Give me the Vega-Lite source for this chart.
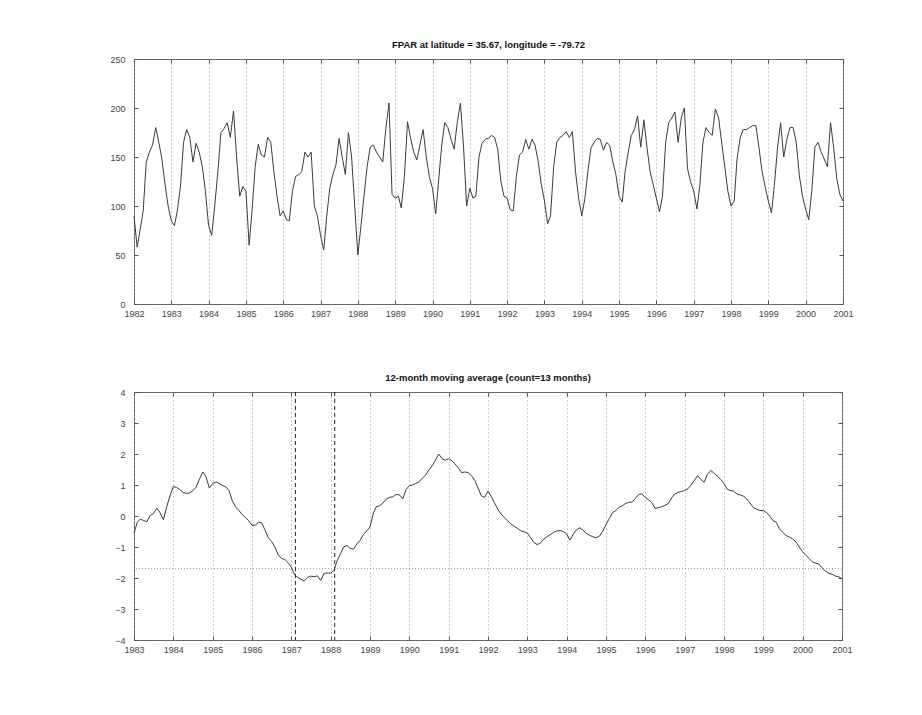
{
"$schema": "https://vega.github.io/schema/vega-lite/v6.json",
"background": "white",
"padding": {"left": 109, "top": 39, "right": 10, "bottom": 10},
"config": {
  "font": "Liberation Sans",
  "view": {"stroke": "#666", "strokeWidth": 1},
  "axis": {"labelFont": "Liberation Sans", "labelFontSize": 9, "labelColor": "#444", "tickColor": "#555", "tickSize": -4, "labelPadding": 7, "domain": false, "grid": false, "title": null},
  "axisY": {"labelPadding": 13},
  "title": {"font": "Liberation Sans", "fontSize": 9.5, "fontWeight": "bold", "color": "#111", "offset": 6, "anchor": "middle"}
},
"datasets": {
"fpar": [
{"d":"1982-01","v":90},{"d":"1982-02","v":58},{"d":"1982-03","v":75},{"d":"1982-04","v":95},{"d":"1982-05","v":145},{"d":"1982-06","v":155},{"d":"1982-07","v":162},{"d":"1982-08","v":180},{"d":"1982-09","v":165},{"d":"1982-10","v":148},{"d":"1982-11","v":122},{"d":"1982-12","v":100},
{"d":"1983-01","v":85},{"d":"1983-02","v":80},{"d":"1983-03","v":95},{"d":"1983-04","v":120},{"d":"1983-05","v":165},{"d":"1983-06","v":178},{"d":"1983-07","v":170},{"d":"1983-08","v":145},{"d":"1983-09","v":164},{"d":"1983-10","v":155},{"d":"1983-11","v":140},{"d":"1983-12","v":115},
{"d":"1984-01","v":80},{"d":"1984-02","v":70},{"d":"1984-03","v":100},{"d":"1984-04","v":135},{"d":"1984-05","v":175},{"d":"1984-06","v":179},{"d":"1984-07","v":185},{"d":"1984-08","v":170},{"d":"1984-09","v":197},{"d":"1984-10","v":150},{"d":"1984-11","v":110},{"d":"1984-12","v":120},
{"d":"1985-01","v":115},{"d":"1985-02","v":60},{"d":"1985-03","v":95},{"d":"1985-04","v":140},{"d":"1985-05","v":163},{"d":"1985-06","v":152},{"d":"1985-07","v":150},{"d":"1985-08","v":170},{"d":"1985-09","v":165},{"d":"1985-10","v":135},{"d":"1985-11","v":110},{"d":"1985-12","v":90},
{"d":"1986-01","v":95},{"d":"1986-02","v":86},{"d":"1986-03","v":85},{"d":"1986-04","v":115},{"d":"1986-05","v":130},{"d":"1986-06","v":132},{"d":"1986-07","v":135},{"d":"1986-08","v":155},{"d":"1986-09","v":150},{"d":"1986-10","v":155},{"d":"1986-11","v":100},{"d":"1986-12","v":90},
{"d":"1987-01","v":70},{"d":"1987-02","v":55},{"d":"1987-03","v":88},{"d":"1987-04","v":118},{"d":"1987-05","v":132},{"d":"1987-06","v":142},{"d":"1987-07","v":169},{"d":"1987-08","v":150},{"d":"1987-09","v":132},{"d":"1987-10","v":175},{"d":"1987-11","v":150},{"d":"1987-12","v":101},
{"d":"1988-01","v":50},{"d":"1988-02","v":80},{"d":"1988-03","v":110},{"d":"1988-04","v":140},{"d":"1988-05","v":160},{"d":"1988-06","v":162},{"d":"1988-07","v":155},{"d":"1988-08","v":150},{"d":"1988-09","v":145},{"d":"1988-10","v":179},{"d":"1988-11","v":205},{"d":"1988-12","v":112},
{"d":"1989-01","v":108},{"d":"1989-02","v":110},{"d":"1989-03","v":98},{"d":"1989-04","v":130},{"d":"1989-05","v":186},{"d":"1989-06","v":169},{"d":"1989-07","v":155},{"d":"1989-08","v":147},{"d":"1989-09","v":163},{"d":"1989-10","v":178},{"d":"1989-11","v":150},{"d":"1989-12","v":130},
{"d":"1990-01","v":118},{"d":"1990-02","v":92},{"d":"1990-03","v":125},{"d":"1990-04","v":162},{"d":"1990-05","v":185},{"d":"1990-06","v":180},{"d":"1990-07","v":168},{"d":"1990-08","v":158},{"d":"1990-09","v":186},{"d":"1990-10","v":205},{"d":"1990-11","v":160},{"d":"1990-12","v":100},
{"d":"1991-01","v":118},{"d":"1991-02","v":108},{"d":"1991-03","v":110},{"d":"1991-04","v":150},{"d":"1991-05","v":164},{"d":"1991-06","v":168},{"d":"1991-07","v":169},{"d":"1991-08","v":172},{"d":"1991-09","v":170},{"d":"1991-10","v":158},{"d":"1991-11","v":125},{"d":"1991-12","v":110},
{"d":"1992-01","v":108},{"d":"1992-02","v":96},{"d":"1992-03","v":95},{"d":"1992-04","v":130},{"d":"1992-05","v":152},{"d":"1992-06","v":155},{"d":"1992-07","v":168},{"d":"1992-08","v":158},{"d":"1992-09","v":168},{"d":"1992-10","v":162},{"d":"1992-11","v":145},{"d":"1992-12","v":122},
{"d":"1993-01","v":105},{"d":"1993-02","v":82},{"d":"1993-03","v":90},{"d":"1993-04","v":140},{"d":"1993-05","v":165},{"d":"1993-06","v":170},{"d":"1993-07","v":172},{"d":"1993-08","v":176},{"d":"1993-09","v":170},{"d":"1993-10","v":176},{"d":"1993-11","v":135},{"d":"1993-12","v":108},
{"d":"1994-01","v":90},{"d":"1994-02","v":108},{"d":"1994-03","v":135},{"d":"1994-04","v":159},{"d":"1994-05","v":165},{"d":"1994-06","v":169},{"d":"1994-07","v":168},{"d":"1994-08","v":157},{"d":"1994-09","v":165},{"d":"1994-10","v":162},{"d":"1994-11","v":145},{"d":"1994-12","v":132},
{"d":"1995-01","v":110},{"d":"1995-02","v":104},{"d":"1995-03","v":135},{"d":"1995-04","v":155},{"d":"1995-05","v":172},{"d":"1995-06","v":178},{"d":"1995-07","v":192},{"d":"1995-08","v":160},{"d":"1995-09","v":188},{"d":"1995-10","v":160},{"d":"1995-11","v":135},{"d":"1995-12","v":122},
{"d":"1996-01","v":108},{"d":"1996-02","v":94},{"d":"1996-03","v":110},{"d":"1996-04","v":165},{"d":"1996-05","v":185},{"d":"1996-06","v":190},{"d":"1996-07","v":196},{"d":"1996-08","v":165},{"d":"1996-09","v":190},{"d":"1996-10","v":200},{"d":"1996-11","v":138},{"d":"1996-12","v":125},
{"d":"1997-01","v":115},{"d":"1997-02","v":97},{"d":"1997-03","v":120},{"d":"1997-04","v":165},{"d":"1997-05","v":180},{"d":"1997-06","v":175},{"d":"1997-07","v":172},{"d":"1997-08","v":199},{"d":"1997-09","v":190},{"d":"1997-10","v":165},{"d":"1997-11","v":140},{"d":"1997-12","v":115},
{"d":"1998-01","v":100},{"d":"1998-02","v":105},{"d":"1998-03","v":148},{"d":"1998-04","v":170},{"d":"1998-05","v":178},{"d":"1998-06","v":178},{"d":"1998-07","v":180},{"d":"1998-08","v":182},{"d":"1998-09","v":182},{"d":"1998-10","v":160},{"d":"1998-11","v":135},{"d":"1998-12","v":120},
{"d":"1999-01","v":105},{"d":"1999-02","v":93},{"d":"1999-03","v":121},{"d":"1999-04","v":159},{"d":"1999-05","v":185},{"d":"1999-06","v":150},{"d":"1999-07","v":168},{"d":"1999-08","v":180},{"d":"1999-09","v":180},{"d":"1999-10","v":165},{"d":"1999-11","v":131},{"d":"1999-12","v":110},
{"d":"2000-01","v":97},{"d":"2000-02","v":86},{"d":"2000-03","v":115},{"d":"2000-04","v":160},{"d":"2000-05","v":165},{"d":"2000-06","v":155},{"d":"2000-07","v":148},{"d":"2000-08","v":140},{"d":"2000-09","v":185},{"d":"2000-10","v":160},{"d":"2000-11","v":128},{"d":"2000-12","v":112},
{"d":"2001-01","v":105}
],
"ma": [
{"d":"1983-01","v":-0.55},{"d":"1983-02","v":-0.2},{"d":"1983-03","v":-0.1},{"d":"1983-04","v":-0.15},{"d":"1983-05","v":-0.18},{"d":"1983-06","v":0.02},{"d":"1983-07","v":0.08},{"d":"1983-08","v":0.25},{"d":"1983-09","v":0.1},{"d":"1983-10","v":-0.12},{"d":"1983-11","v":0.3},{"d":"1983-12","v":0.65},
{"d":"1984-01","v":0.95},{"d":"1984-02","v":0.92},{"d":"1984-03","v":0.85},{"d":"1984-04","v":0.76},{"d":"1984-05","v":0.73},{"d":"1984-06","v":0.74},{"d":"1984-07","v":0.82},{"d":"1984-08","v":0.93},{"d":"1984-09","v":1.2},{"d":"1984-10","v":1.42},{"d":"1984-11","v":1.25},{"d":"1984-12","v":0.9},
{"d":"1985-01","v":1.05},{"d":"1985-02","v":1.1},{"d":"1985-03","v":1.05},{"d":"1985-04","v":0.98},{"d":"1985-05","v":0.95},{"d":"1985-06","v":0.82},{"d":"1985-07","v":0.5},{"d":"1985-08","v":0.3},{"d":"1985-09","v":0.18},{"d":"1985-10","v":0.05},{"d":"1985-11","v":-0.05},{"d":"1985-12","v":-0.15},
{"d":"1986-01","v":-0.3},{"d":"1986-02","v":-0.3},{"d":"1986-03","v":-0.2},{"d":"1986-04","v":-0.22},{"d":"1986-05","v":-0.45},{"d":"1986-06","v":-0.7},{"d":"1986-07","v":-0.82},{"d":"1986-08","v":-1.0},{"d":"1986-09","v":-1.25},{"d":"1986-10","v":-1.37},{"d":"1986-11","v":-1.4},{"d":"1986-12","v":-1.5},
{"d":"1987-01","v":-1.65},{"d":"1987-02","v":-1.9},{"d":"1987-03","v":-1.98},{"d":"1987-04","v":-2.04},{"d":"1987-05","v":-2.1},{"d":"1987-06","v":-1.98},{"d":"1987-07","v":-1.94},{"d":"1987-08","v":-1.96},{"d":"1987-09","v":-1.93},{"d":"1987-10","v":-2.08},{"d":"1987-11","v":-1.85},{"d":"1987-12","v":-1.84},
{"d":"1988-01","v":-1.84},{"d":"1988-02","v":-1.75},{"d":"1988-03","v":-1.45},{"d":"1988-04","v":-1.22},{"d":"1988-05","v":-1.0},{"d":"1988-06","v":-0.95},{"d":"1988-07","v":-1.05},{"d":"1988-08","v":-1.07},{"d":"1988-09","v":-0.9},{"d":"1988-10","v":-0.78},{"d":"1988-11","v":-0.6},{"d":"1988-12","v":-0.48},
{"d":"1989-01","v":-0.35},{"d":"1989-02","v":0.1},{"d":"1989-03","v":0.3},{"d":"1989-04","v":0.33},{"d":"1989-05","v":0.42},{"d":"1989-06","v":0.55},{"d":"1989-07","v":0.6},{"d":"1989-08","v":0.62},{"d":"1989-09","v":0.7},{"d":"1989-10","v":0.68},{"d":"1989-11","v":0.55},{"d":"1989-12","v":0.85},
{"d":"1990-01","v":0.98},{"d":"1990-02","v":1.0},{"d":"1990-03","v":1.05},{"d":"1990-04","v":1.1},{"d":"1990-05","v":1.22},{"d":"1990-06","v":1.32},{"d":"1990-07","v":1.48},{"d":"1990-08","v":1.62},{"d":"1990-09","v":1.8},{"d":"1990-10","v":2.0},{"d":"1990-11","v":1.85},{"d":"1990-12","v":1.8},
{"d":"1991-01","v":1.85},{"d":"1991-02","v":1.78},{"d":"1991-03","v":1.68},{"d":"1991-04","v":1.55},{"d":"1991-05","v":1.4},{"d":"1991-06","v":1.42},{"d":"1991-07","v":1.4},{"d":"1991-08","v":1.3},{"d":"1991-09","v":1.15},{"d":"1991-10","v":0.9},{"d":"1991-11","v":0.65},{"d":"1991-12","v":0.6},
{"d":"1992-01","v":0.8},{"d":"1992-02","v":0.63},{"d":"1992-03","v":0.43},{"d":"1992-04","v":0.22},{"d":"1992-05","v":0.07},{"d":"1992-06","v":-0.05},{"d":"1992-07","v":-0.15},{"d":"1992-08","v":-0.26},{"d":"1992-09","v":-0.33},{"d":"1992-10","v":-0.4},{"d":"1992-11","v":-0.48},{"d":"1992-12","v":-0.51},
{"d":"1993-01","v":-0.55},{"d":"1993-02","v":-0.7},{"d":"1993-03","v":-0.85},{"d":"1993-04","v":-0.92},{"d":"1993-05","v":-0.88},{"d":"1993-06","v":-0.75},{"d":"1993-07","v":-0.67},{"d":"1993-08","v":-0.6},{"d":"1993-09","v":-0.53},{"d":"1993-10","v":-0.48},{"d":"1993-11","v":-0.47},{"d":"1993-12","v":-0.5},
{"d":"1994-01","v":-0.58},{"d":"1994-02","v":-0.78},{"d":"1994-03","v":-0.6},{"d":"1994-04","v":-0.45},{"d":"1994-05","v":-0.38},{"d":"1994-06","v":-0.45},{"d":"1994-07","v":-0.56},{"d":"1994-08","v":-0.62},{"d":"1994-09","v":-0.67},{"d":"1994-10","v":-0.7},{"d":"1994-11","v":-0.65},{"d":"1994-12","v":-0.5},
{"d":"1995-01","v":-0.28},{"d":"1995-02","v":-0.08},{"d":"1995-03","v":0.1},{"d":"1995-04","v":0.17},{"d":"1995-05","v":0.28},{"d":"1995-06","v":0.33},{"d":"1995-07","v":0.4},{"d":"1995-08","v":0.44},{"d":"1995-09","v":0.45},{"d":"1995-10","v":0.57},{"d":"1995-11","v":0.7},{"d":"1995-12","v":0.71},
{"d":"1996-01","v":0.6},{"d":"1996-02","v":0.52},{"d":"1996-03","v":0.44},{"d":"1996-04","v":0.24},{"d":"1996-05","v":0.27},{"d":"1996-06","v":0.3},{"d":"1996-07","v":0.34},{"d":"1996-08","v":0.4},{"d":"1996-09","v":0.58},{"d":"1996-10","v":0.71},{"d":"1996-11","v":0.76},{"d":"1996-12","v":0.79},
{"d":"1997-01","v":0.82},{"d":"1997-02","v":0.88},{"d":"1997-03","v":1.0},{"d":"1997-04","v":1.15},{"d":"1997-05","v":1.3},{"d":"1997-06","v":1.18},{"d":"1997-07","v":1.09},{"d":"1997-08","v":1.35},{"d":"1997-09","v":1.47},{"d":"1997-10","v":1.38},{"d":"1997-11","v":1.28},{"d":"1997-12","v":1.18},
{"d":"1998-01","v":1.05},{"d":"1998-02","v":0.86},{"d":"1998-03","v":0.82},{"d":"1998-04","v":0.8},{"d":"1998-05","v":0.71},{"d":"1998-06","v":0.68},{"d":"1998-07","v":0.64},{"d":"1998-08","v":0.55},{"d":"1998-09","v":0.42},{"d":"1998-10","v":0.27},{"d":"1998-11","v":0.22},{"d":"1998-12","v":0.18},
{"d":"1999-01","v":0.17},{"d":"1999-02","v":0.11},{"d":"1999-03","v":0.0},{"d":"1999-04","v":-0.15},{"d":"1999-05","v":-0.2},{"d":"1999-06","v":-0.42},{"d":"1999-07","v":-0.53},{"d":"1999-08","v":-0.63},{"d":"1999-09","v":-0.68},{"d":"1999-10","v":-0.74},{"d":"1999-11","v":-0.84},{"d":"1999-12","v":-1.0},
{"d":"2000-01","v":-1.15},{"d":"2000-02","v":-1.27},{"d":"2000-03","v":-1.37},{"d":"2000-04","v":-1.48},{"d":"2000-05","v":-1.52},{"d":"2000-06","v":-1.55},{"d":"2000-07","v":-1.68},{"d":"2000-08","v":-1.78},{"d":"2000-09","v":-1.85},{"d":"2000-10","v":-1.88},{"d":"2000-11","v":-1.94},{"d":"2000-12","v":-1.96},
{"d":"2001-01","v":-2.02}
],
"events": [{"d":"1987-02-08"},{"d":"1988-02-08"}],
"level": [{"v":-1.7}]
},
"spacing": 53,
"vconcat": [
{
  "width": 709, "height": 245,
  "title": "FPAR at latitude = 35.67, longitude = -79.72",
  "data": {"name": "fpar"},
  "layer": [
    {"mark": {"type": "line", "color": "#3a3a3a", "strokeWidth": 1},
     "encoding": {
       "x": {"field": "d", "type": "temporal",
             "scale": {"type": "utc", "domain": [{"year":1982,"month":1,"date":1,"utc":true},{"year":2001,"month":1,"date":1,"utc":true}], "nice": false},
             "axis": {"format": "%Y", "formatType": "utc", "tickCount": {"interval": "year", "step": 1}, "grid": true, "gridDash": [1,3], "gridColor": "#999", "labelFlush": false, "labelOverlap": false, "labelPadding": 9}},
       "y": {"field": "v", "type": "quantitative", "scale": {"domain": [0,250], "nice": false},
             "axis": {"values": [0,50,100,150,200,250]}}
     }},
    {"mark": {"type": "line", "opacity": 0},
     "encoding": {
       "x": {"field": "d", "type": "temporal", "axis": {"orient": "top", "labels": false, "tickCount": {"interval": "year", "step": 1}, "grid": false}},
       "y": {"field": "v", "type": "quantitative", "axis": {"orient": "right", "labels": false, "values": [0,50,100,150,200,250]}}
     }}
  ],
  "resolve": {"axis": {"x": "independent", "y": "independent"}}
},
{
  "width": 708, "height": 248,
  "title": "12-month moving average (count=13 months)",
  "layer": [
    {"data": {"name": "ma"},
     "mark": {"type": "line", "color": "#3a3a3a", "strokeWidth": 1},
     "encoding": {
       "x": {"field": "d", "type": "temporal",
             "scale": {"type": "utc", "domain": [{"year":1983,"month":1,"date":1,"utc":true},{"year":2001,"month":1,"date":1,"utc":true}], "nice": false},
             "axis": {"format": "%Y", "formatType": "utc", "tickCount": {"interval": "year", "step": 1}, "grid": true, "gridDash": [1,3], "gridColor": "#999", "labelFlush": false, "labelOverlap": false, "labelPadding": 9}},
       "y": {"field": "v", "type": "quantitative", "scale": {"domain": [-4,4], "nice": false},
             "axis": {"values": [-4,-3,-2,-1,0,1,2,3,4], "format": "d"}}
     }},
    {"data": {"name": "level"},
     "mark": {"type": "rule", "color": "#999", "strokeWidth": 1, "strokeDash": [1,2]},
     "encoding": {"y": {"field": "v", "type": "quantitative", "axis": null}}},
    {"data": {"name": "events"},
     "mark": {"type": "rule", "color": "#222", "strokeWidth": 1, "strokeDash": [4,3]},
     "encoding": {"x": {"field": "d", "type": "temporal", "axis": null}}},
    {"data": {"name": "ma"},
     "mark": {"type": "line", "opacity": 0},
     "encoding": {
       "x": {"field": "d", "type": "temporal", "axis": {"orient": "top", "labels": false, "tickCount": {"interval": "year", "step": 1}, "grid": false}},
       "y": {"field": "v", "type": "quantitative", "axis": {"orient": "right", "labels": false, "values": [-4,-3,-2,-1,0,1,2,3,4]}}
     }}
  ],
  "resolve": {"axis": {"x": "independent", "y": "independent"}}
}
]
}
